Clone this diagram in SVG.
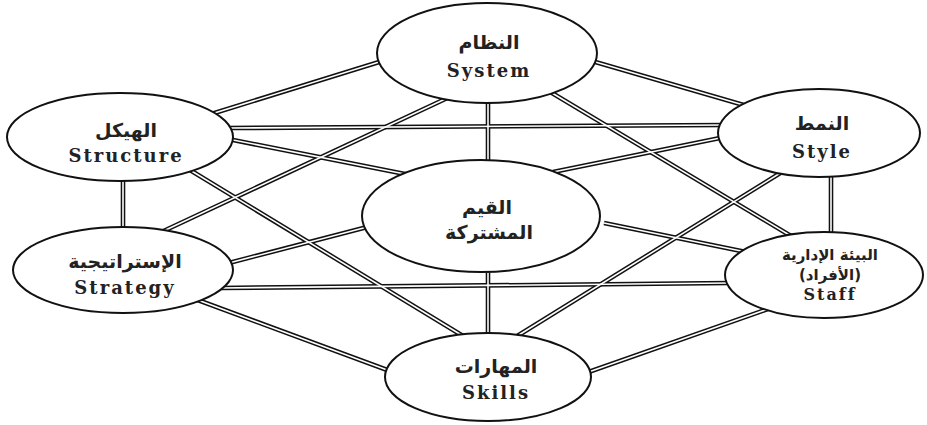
<svg xmlns="http://www.w3.org/2000/svg" xmlns:xlink="http://www.w3.org/1999/xlink" width="927" height="425" viewBox="0 0 927 425">
  <style>
    .node ellipse { fill: #fff; stroke: #111; stroke-width: 2; }
    .en { font-family: "DejaVu Serif", "Liberation Serif", serif; font-weight: bold; font-size: 18px; letter-spacing: 2px; fill: #222; text-anchor: middle; }
    .ar { font-family: "DejaVu Sans", "Noto Sans", sans-serif; font-weight: bold; font-size: 19px; fill: #222; text-anchor: middle; }
    .ar-s { font-size: 15px; }
    .en-s { font-size: 16px; }
  </style>
  <defs>
    <!-- connector geometry; stroked twice below to give a double rule -->
    <g id="links" fill="none" stroke-linecap="butt">
      <line x1="208" y1="115" x2="392" y2="58"/>
      <line x1="123" y1="175" x2="123" y2="232"/>
      <line x1="195" y1="299" x2="398" y2="374"/>
      <line x1="580" y1="375" x2="785" y2="303"/>
      <line x1="831" y1="172" x2="831" y2="237"/>
      <line x1="585" y1="59" x2="747" y2="106"/>
      <line x1="228" y1="128" x2="725" y2="125"/>
      <line x1="220" y1="288" x2="730" y2="283"/>
      <line x1="458" y1="93" x2="155" y2="235"/>
      <line x1="542" y1="87" x2="796" y2="239"/>
      <line x1="185" y1="167" x2="468" y2="339"/>
      <line x1="790" y1="167" x2="514" y2="338"/>
      <line x1="488" y1="100" x2="488" y2="165"/>
      <line x1="488" y1="268" x2="488" y2="336"/>
      <line x1="228" y1="139" x2="410" y2="175"/>
      <line x1="725" y1="137" x2="553" y2="172"/>
      <line x1="225" y1="264" x2="375" y2="225"/>
      <line x1="604" y1="223" x2="746" y2="252"/>
    </g>
  </defs>

  <rect width="927" height="425" fill="#fff"/>

  <g id="connectors">
    <use xlink:href="#links" stroke="#111" stroke-width="4.6"/>
    <use xlink:href="#links" stroke="#fff" stroke-width="1.6"/>
  </g>

  <g id="system" class="node">
    <ellipse cx="487" cy="53" rx="110" ry="50"/>
    <text class="ar" x="489" y="49">النظام</text>
    <text class="en" x="489" y="77">System</text>
  </g>

  <g id="structure" class="node">
    <ellipse cx="120" cy="137" rx="113" ry="44"/>
    <text class="ar" x="126" y="137">الهيكل</text>
    <text class="en" x="126" y="162">Structure</text>
  </g>

  <g id="style" class="node">
    <ellipse cx="819" cy="133" rx="101" ry="44"/>
    <text class="ar" x="822" y="130">النمط</text>
    <text class="en" x="822" y="158">Style</text>
  </g>

  <g id="shared-values" class="node">
    <ellipse cx="481" cy="216" rx="119" ry="56"/>
    <text class="ar" x="487" y="214">القيم</text>
    <text class="ar" x="489" y="239">المشتركة</text>
  </g>

  <g id="strategy" class="node">
    <ellipse cx="123" cy="270" rx="110" ry="43"/>
    <text class="ar" x="125" y="268">الإستراتيجية</text>
    <text class="en" x="125" y="294">Strategy</text>
  </g>

  <g id="staff" class="node">
    <ellipse cx="824" cy="275" rx="99" ry="43"/>
    <text class="ar ar-s" x="830" y="260">البيئة الإدارية</text>
    <text class="ar ar-s" x="830" y="280">(الأفراد)</text>
    <text class="en en-s" x="830" y="300">Staff</text>
  </g>

  <g id="skills" class="node">
    <ellipse cx="488" cy="377" rx="103" ry="44"/>
    <text class="ar" x="496" y="373">المهارات</text>
    <text class="en" x="496" y="399">Skills</text>
  </g>
</svg>
